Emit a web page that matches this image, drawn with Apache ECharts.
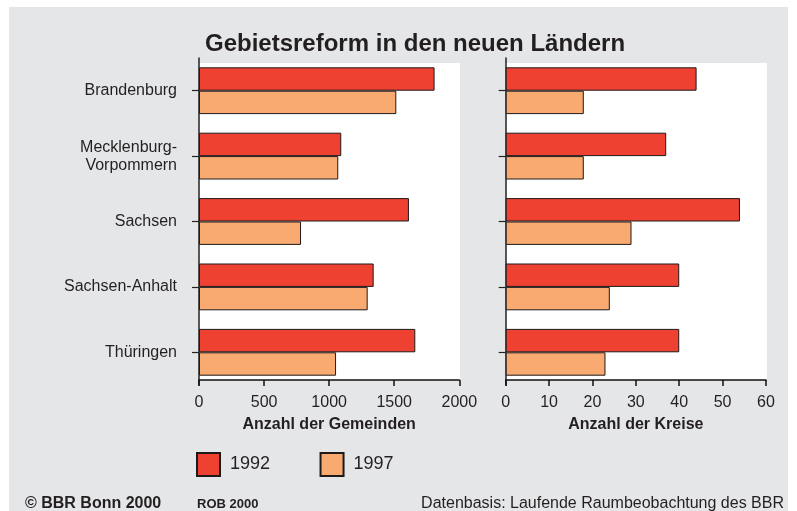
<!DOCTYPE html>
<html>
<head>
<meta charset="utf-8">
<script src="https://cdn.jsdelivr.net/npm/echarts@6/dist/echarts.min.js"></script>
<style>
  html, body { margin: 0; padding: 0; background: #ffffff; }
  #chart { width: 797px; height: 511px; }
</style>
</head>
<body>
<div id="chart"></div>
<script>
// Länder of the former GDR
const laender = ['Brandenburg', 'Mecklenburg-\nVorpommern', 'Sachsen', 'Sachsen-Anhalt', 'Thüringen'];

// Number of municipalities (Gemeinden)
const gemeinden1992 = [1810, 1093, 1613, 1342, 1662];
const gemeinden1997 = [1516, 1070, 784, 1296, 1053];

// Number of districts (Kreise)
const kreise1992 = [44, 37, 54, 40, 40];
const kreise1997 = [18, 18, 29, 24, 23];

const years = ['1992', '1997'];
const gemeindenTicks = { min: 0, max: 2000, interval: 500 };
const kreiseTicks = { min: 0, max: 60, interval: 10 };

const FONT = '"Liberation Sans", Arial, Helvetica, sans-serif';
const TEXT = '#231f20';
const RED = '#ee4131';
const ORANGE = '#f8aa70';
const EDGE = '#1e1a1a';

const chart = echarts.init(document.getElementById('chart'), null, { renderer: 'canvas' });

function valueAxis(gridIndex, ticks, name) {
  return {
    type: 'value',
    gridIndex: gridIndex,
    min: ticks.min,
    max: ticks.max,
    interval: ticks.interval,
    offset: -5,
    name: name,
    nameLocation: 'middle',
    nameGap: 37,
    nameTextStyle: { fontFamily: FONT, fontSize: 16, fontWeight: 'bold', color: TEXT },
    axisLine: { show: true, lineStyle: { color: '#111', width: 1.5 } },
    axisTick: { show: true, length: 6, lineStyle: { color: '#111', width: 1.5 } },
    axisLabel: {
      margin: 15,
      fontFamily: FONT,
      fontSize: 16,
      color: TEXT,
      formatter: function (v) { return String(v); }
    },
    splitLine: { show: false }
  };
}

function categoryAxis(gridIndex, showLabels) {
  return {
    type: 'category',
    gridIndex: gridIndex,
    data: laender,
    inverse: true,
    axisLine: { show: true, onZero: false, lineStyle: { color: '#222', width: 1.5 } },
    axisTick: { show: true, alignWithLabel: true, length: 7, lineStyle: { color: '#222', width: 1.2 } },
    axisLabel: {
      show: showLabels,
      margin: 22,
      fontFamily: FONT,
      fontSize: 16,
      lineHeight: 18,
      color: TEXT,
      align: 'right'
    }
  };
}

function barSeries(name, xi, data, color) {
  return {
    name: name,
    type: 'bar',
    xAxisIndex: xi,
    yAxisIndex: xi,
    data: data,
    barWidth: 23.4,
    barGap: '0%',
    itemStyle: { color: color, borderColor: EDGE, borderWidth: 1 },
    emphasis: { disabled: true }
  };
}

chart.setOption({
  animation: false,
  backgroundColor: '#ffffff',
  title: {
    text: 'Gebietsreform in den neuen Ländern',
    left: 205,
    top: 32,
    padding: 0,
    textStyle: { fontFamily: FONT, fontSize: 24, fontWeight: 'bold', color: TEXT }
  },
  legend: {
    data: years,
    left: 196,
    top: 452,
    padding: 0,
    itemWidth: 23,
    itemHeight: 23,
    itemGap: 49.5,
    icon: 'rect',
    textStyle: { fontFamily: FONT, fontSize: 18, color: TEXT, padding: [0, 0, 0, 5] }
  },
  grid: [
    { left: 199, top: 58, width: 260.3, height: 327 },
    { left: 505.7, top: 58, width: 260.3, height: 327 }
  ],
  xAxis: [
    valueAxis(0, gemeindenTicks, 'Anzahl der Gemeinden'),
    valueAxis(1, kreiseTicks, 'Anzahl der Kreise')
  ],
  yAxis: [
    categoryAxis(0, true),
    categoryAxis(1, false)
  ],
  series: [
    barSeries(years[0], 0, gemeinden1992, RED),
    barSeries(years[1], 0, gemeinden1997, ORANGE),
    barSeries(years[0], 1, kreise1992, RED),
    barSeries(years[1], 1, kreise1997, ORANGE)
  ],
  graphic: [
    // grey panel behind everything
    { type: 'rect', z: -100, silent: true, shape: { x: 9, y: 7, width: 779, height: 504 }, style: { fill: '#e5e6e8' } },
    // white plotting areas
    { type: 'rect', z: -90, silent: true, shape: { x: 199, y: 63, width: 261, height: 317 }, style: { fill: '#ffffff' } },
    { type: 'rect', z: -90, silent: true, shape: { x: 506, y: 63, width: 261, height: 317 }, style: { fill: '#ffffff' } },
    // footer
    { type: 'text', left: 25, top: 496, style: { text: '© BBR Bonn 2000', font: 'bold 16px ' + FONT, fill: TEXT } },
    { type: 'text', left: 197, top: 498, style: { text: 'ROB 2000', font: 'bold 13px ' + FONT, fill: TEXT } },
    { type: 'text', right: 13, top: 496, style: { text: 'Datenbasis: Laufende Raumbeobachtung des BBR', font: '16px ' + FONT, fill: TEXT } }
  ]
});
</script>
</body>
</html>
